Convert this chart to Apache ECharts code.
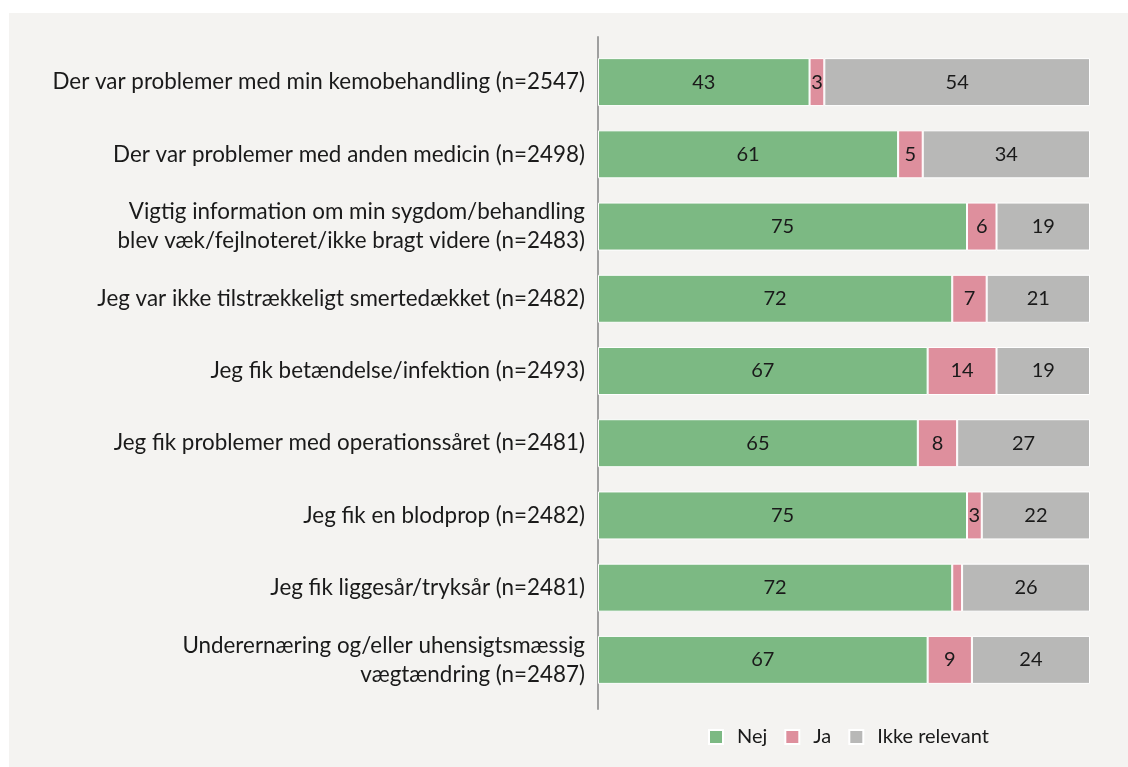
<!DOCTYPE html>
<html>
<head>
<meta charset="utf-8" />
<title>Problemer</title>
<style type="text/css">
html,body{margin:0;padding:0;background:#ffffff}
#chart{position:absolute;left:9px;top:13px;width:1119px;height:754px;background:#f4f3f1}
</style>
<script src="https://cdn.jsdelivr.net/npm/echarts@6/dist/echarts.min.js"></script>
</head>
<body>
<div id="chart"></div>
<script type="text/javascript">
var categories = [
	'Der var problemer med min kemobehandling (n=2547)',
	'Der var problemer med anden medicin (n=2498)',
	'Vigtig information om min sygdom/behandling\nblev væk/fejlnoteret/ikke bragt videre (n=2483)',
	'Jeg var ikke tilstrækkeligt smertedækket (n=2482)',
	'Jeg fik betændelse/infektion (n=2493)',
	'Jeg fik problemer med operationssåret (n=2481)',
	'Jeg fik en blodprop (n=2482)',
	'Jeg fik liggesår/tryksår (n=2481)',
	'Underernæring og/eller uhensigtsmæssig\nvægtændring (n=2487)'
];
var nej = [43, 61, 75, 72, 67, 65, 75, 72, 67];
var ja = [3, 5, 6, 7, 14, 8, 3, 2, 9];
var ikkeRelevant = [54, 34, 19, 21, 19, 27, 22, 26, 24];

var font = 'Lato';

function makeSeries(name, data, color){
	return {
		name: name,
		type: 'bar',
		stack: 'total',
		barWidth: 48,
		data: data,
		itemStyle: {color: color, borderColor: '#ffffff', borderWidth: 1},
		label: {
			show: true,
			color: '#1a1a1a',
			fontFamily: font,
			fontSize: 20,
			// smal bjælke (2) vises uden tal
			formatter: function(p){ return p.value < 3 ? '' : p.value; }
		}
	};
}

var chart = echarts.init(document.getElementById('chart'));
chart.setOption({
	animation: false,
	grid: [
		{left: 589, right: 38, top: 33, height: 650},
		// kun til den lodrette aksestreg, som er lidt længere end søjleområdet
		{left: 589, right: 38, top: 24, height: 672}
	],
	legend: {
		top: 709,
		left: 694,
		itemWidth: 14,
		itemHeight: 14,
		itemGap: 17,
		icon: 'rect',
		textStyle: {fontFamily: font, fontSize: 20, color: '#1a1a1a', padding: [0, 0, 0, 9]},
		data: ['Nej', 'Ja', 'Ikke relevant']
	},
	xAxis: [
		{type: 'value', min: 0, max: 100, show: false, gridIndex: 0},
		{type: 'value', min: 0, max: 100, show: false, gridIndex: 1}
	],
	yAxis: [
		{
			type: 'category',
			inverse: true,
			gridIndex: 0,
			data: categories,
			axisTick: {show: false},
			axisLine: {show: false},
			axisLabel: {
				fontFamily: font,
				fontSize: 22.4,
				lineHeight: 29,
				color: '#1a1a1a',
				margin: 13,
				align: 'right'
			}
		},
		{
			type: 'value',
			gridIndex: 1,
			min: 0,
			max: 1,
			axisLine: {show: true, lineStyle: {color: '#9f9f9f', width: 2}},
			axisTick: {show: false},
			axisLabel: {show: false},
			splitLine: {show: false}
		}
	],
	series: [
		makeSeries('Nej', nej, '#7cb983'),
		makeSeries('Ja', ja, '#de8f9d'),
		makeSeries('Ikke relevant', ikkeRelevant, '#b8b8b7')
	]
});
</script>
</body>
</html>
